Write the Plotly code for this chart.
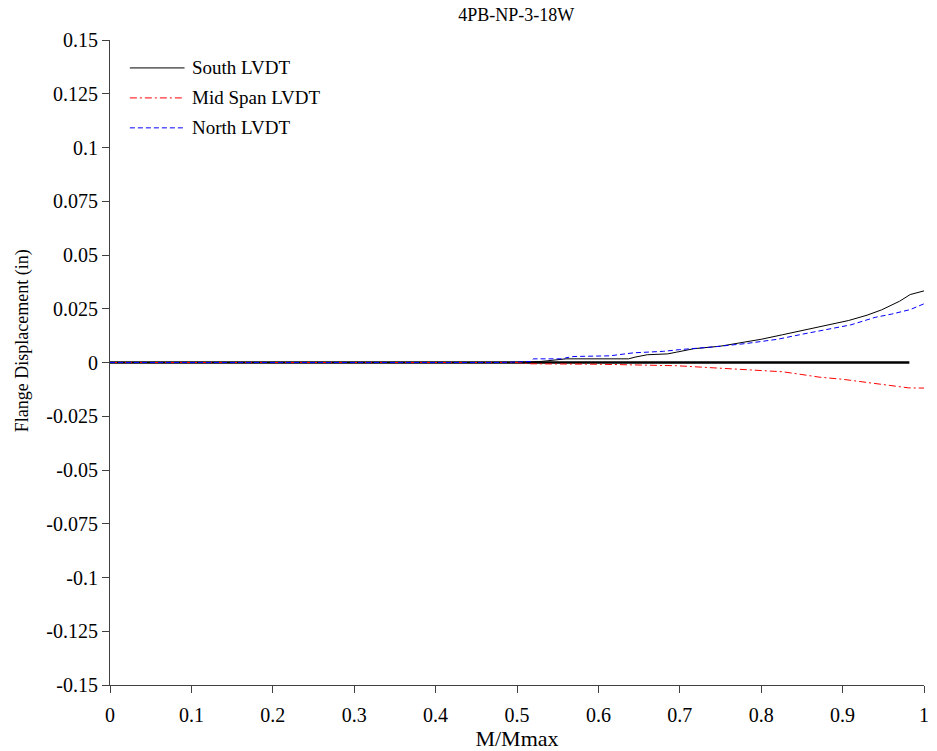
import plotly.graph_objects as go

# Normalised moment M/Mmax and flange displacement readings (in)
south_x = [0.0, 0.50, 0.53, 0.545, 0.56, 0.637, 0.645, 0.66, 0.685, 0.696, 0.717, 0.75,
           0.781, 0.80, 0.826, 0.85, 0.871, 0.89, 0.907, 0.93, 0.948, 0.97, 0.983, 1.0]
south_y = [0.0, 0.0, 0.0005, 0.001, 0.0017, 0.0017, 0.0025, 0.0036, 0.004, 0.0048, 0.0064, 0.0076,
           0.0094, 0.0108, 0.0129, 0.0148, 0.0167, 0.018, 0.0195, 0.022, 0.0245, 0.0285, 0.0316, 0.0333]

mid_x = [0.0, 0.50, 0.517, 0.60, 0.696, 0.74, 0.777, 0.826, 0.85, 0.871, 0.90, 0.924, 0.95, 0.981, 1.0]
mid_y = [0.0, 0.0, -0.0006, -0.0008, -0.0015, -0.0024, -0.0034, -0.0043, -0.0056, -0.0068,
         -0.0078, -0.0089, -0.0102, -0.0118, -0.0119]

north_x = [0.0, 0.48, 0.518, 0.52, 0.558, 0.56, 0.57, 0.614, 0.643, 0.68, 0.70, 0.74, 0.781,
           0.82, 0.851, 0.88, 0.91, 0.94, 0.96, 0.983, 1.0]
north_y = [0.0, 0.0, 0.0005, 0.0017, 0.0017, 0.0022, 0.0028, 0.0031, 0.0045, 0.0052, 0.006, 0.0072,
           0.0088, 0.0108, 0.0132, 0.0152, 0.0175, 0.021, 0.0225, 0.0246, 0.0273]

zero_x = [0.0, 0.982]
zero_y = [0.0, 0.0]

x_ticks = [0, 0.1, 0.2, 0.3, 0.4, 0.5, 0.6, 0.7, 0.8, 0.9, 1]
y_ticks = [0.15, 0.125, 0.1, 0.075, 0.05, 0.025, 0, -0.025, -0.05, -0.075, -0.1, -0.125, -0.15]
y_labels = ["0.15", "0.125", "0.1", "0.075", "0.05", "0.025", "0",
            "-0.025", "-0.05", "-0.075", "-0.1", "-0.125", "-0.15"]

series_names = ["South LVDT", "Mid Span LVDT", "North LVDT"]
series_colors = ["black", "#ff0000", "#0000ff"]
series_dash = ["solid", "7px,3px,2px,3px", "5px,3px"]

FONT = "Liberation Serif, Times New Roman, serif"
AXIS_COLOR = "#404040"

fig = go.Figure()
fig.add_trace(go.Scatter(x=zero_x, y=zero_y, mode="lines", showlegend=False,
                         line=dict(color="black", width=2.7), hoverinfo="skip"))
for xs, ys, name, col, dash in zip([south_x, mid_x, north_x], [south_y, mid_y, north_y],
                                   series_names, series_colors, series_dash):
    fig.add_trace(go.Scatter(x=xs, y=ys, mode="lines", name=name, showlegend=False,
                             line=dict(color=col, width=1, dash=dash)))

# Legend drawn as short line samples with labels in the upper-left corner
leg_x0, leg_x1, leg_text_x = 0.0244, 0.0916, 0.0977
leg_rows = [0.9567, 0.9102, 0.8638]
for name, col, dash, yy in zip(series_names, series_colors, series_dash, leg_rows):
    fig.add_shape(type="line", xref="paper", yref="paper", x0=leg_x0, x1=leg_x1, y0=yy, y1=yy,
                  line=dict(color=col, width=1, dash=dash))
    fig.add_annotation(xref="paper", yref="paper", x=leg_text_x, y=yy, text=name,
                       showarrow=False, xanchor="left", yanchor="middle",
                       font=dict(family=FONT, size=19, color="black"))

# Vertical axis title
fig.add_annotation(xref="paper", yref="paper", x=-0.108, y=0.533, text="Flange Displacement (in)",
                   textangle=-90, showarrow=False, xanchor="center", yanchor="middle",
                   font=dict(family=FONT, size=18, color="black"))

fig.update_layout(
    width=937, height=751,
    margin=dict(l=110, r=8, t=40, b=65),
    paper_bgcolor="white", plot_bgcolor="white",
    font=dict(family=FONT, size=20, color="black"),
    showlegend=False,
    title=dict(text="4PB-NP-3-18W", x=0.551, xanchor="center", y=0.981, yanchor="middle",
               font=dict(family=FONT, size=18, color="black")),
    xaxis=dict(range=[0, 1], tickvals=x_ticks, ticktext=[str(v) for v in x_ticks],
               showgrid=False, zeroline=False, showline=True, linecolor=AXIS_COLOR, linewidth=1,
               ticks="outside", ticklen=7, tickcolor=AXIS_COLOR, ticklabelstandoff=5,
               ticklabeloverflow="allow",
               tickfont=dict(family=FONT, size=20),
               title=dict(text="M/Mmax", standoff=2, font=dict(family=FONT, size=22))),
    yaxis=dict(range=[-0.15, 0.15], tickvals=y_ticks, ticktext=y_labels,
               showgrid=False, zeroline=False, showline=True, linecolor=AXIS_COLOR, linewidth=1,
               ticks="outside", ticklen=7, tickcolor=AXIS_COLOR,
               tickfont=dict(family=FONT, size=20)),
)

fig.write_html("out.html")
